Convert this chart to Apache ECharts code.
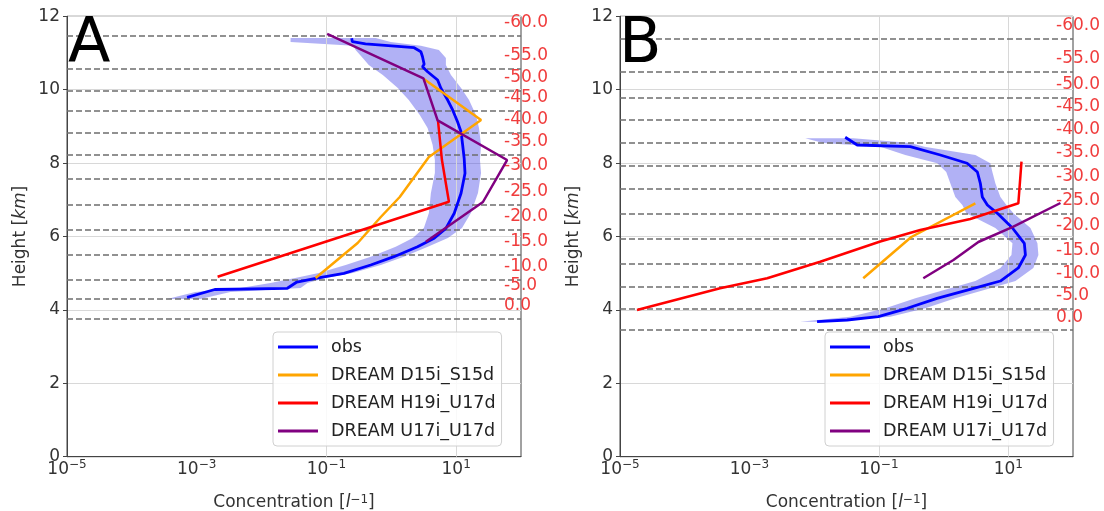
<!DOCTYPE html>
<html><head><meta charset="utf-8">
<script src="https://cdn.jsdelivr.net/npm/echarts@6/dist/echarts.min.js"></script>
<style>html,body{margin:0;padding:0;background:#fff}#c{width:1104px;height:511px}</style>
</head><body><div id="c"></div>
<script>
const FONT = 'DejaVu Sans';
const seriesNames = ['obs', 'DREAM D15i_S15d', 'DREAM H19i_U17d', 'DREAM U17i_U17d'];
const seriesColors = ['#0000ff', '#ffa500', '#ff0000', '#800080'];
const panelLetters = ['A', 'B'];
const xTickLabelExponents = [-5, -3, -1, 1];
const xGridValues = [0.001, 0.1, 10];
const tempLabels = ['-60.0', '-55.0', '-50.0', '-45.0', '-40.0', '-35.0', '-30.0', '-25.0', '-20.0', '-15.0', '-10.0', '-5.0', '0.0'];

// ---------- Panel A ----------
const aTempHeights = [11.47, 10.58, 9.97, 9.43, 8.84, 8.22, 7.57, 6.86, 6.18, 5.50, 4.83, 4.30, 3.77];
const aObsHeight = [4.343, 4.556, 4.589, 4.760, 4.861, 4.997, 5.223, 5.450, 5.722, 5.951, 6.223, 6.632, 7.177, 7.722, 8.131, 8.493, 8.856, 9.128, 9.447, 9.719, 10.038, 10.264, 10.490, 10.627, 10.692, 10.899, 11.035, 11.144, 11.25, 11.308, 11.40];
const aObsConc = [0.00071, 0.0019, 0.025, 0.035, 0.068, 0.186, 0.482, 1.10, 2.54, 4.59, 6.95, 9.35, 11.9, 13.7, 13.3, 12.6, 11.9, 10.5, 8.83, 7.40, 5.82, 5.18, 3.63, 3.03, 3.21, 3.03, 2.86, 2.25, 0.40, 0.251, 0.245];
const aBandHeight = [4.297, 4.488, 4.597, 4.733, 4.869, 5.005, 5.223, 5.450, 5.722, 5.959, 6.232, 6.640, 7.185, 7.730, 8.084, 8.493, 8.956, 9.311, 9.719, 10.046, 10.401, 10.673, 10.864, 11.082, 11.20, 11.30, 11.41];
const aBandLow = [0.00035, 0.00095, 0.0047, 0.0137, 0.033, 0.076, 0.198, 0.482, 1.17, 2.15, 3.18, 3.80, 4.08, 4.70, 4.70, 4.34, 3.63, 2.75, 1.86, 1.26, 0.74, 0.449, 0.363, 0.282, 0.26, 0.028, 0.028];
const aBandHigh = [0.00114, 0.0033, 0.040, 0.051, 0.097, 0.254, 0.689, 1.56, 3.66, 7.46, 12.3, 16.9, 21.7, 24.2, 23.3, 24.2, 22.5, 20.2, 15.8, 11.9, 8.32, 6.95, 6.95, 5.42, 2.86, 0.98, 0.575];
const aD15Height = [4.869, 5.823, 6.531, 7.076, 8.166, 9.174, 10.292];
const aD15Conc = [0.068, 0.303, 0.689, 1.35, 3.80, 24.2, 3.18];
const aH19Height = [4.905, 6.948, 8.084, 9.174];
const aH19Conc = [0.0021, 7.74, 6.04, 5.24];
const aU17Height = [5.858, 6.940, 8.084, 9.166, 10.311, 11.518];
const aU17Conc = [3.41, 25.9, 61.0, 5.18, 3.13, 0.1026];

// ---------- Panel B ----------
const bTempHeights = [11.38, 10.49, 9.79, 9.19, 8.56, 7.93, 7.29, 6.63, 5.95, 5.27, 4.63, 4.04, 3.45];
const bObsHeight = [3.678, 3.725, 3.815, 4.044, 4.316, 4.589, 4.787, 5.142, 5.496, 5.815, 6.232, 6.632, 6.858, 7.076, 7.450, 7.757, 7.995, 8.221, 8.447, 8.493, 8.703];
const bObsConc = [0.0111, 0.0324, 0.098, 0.275, 0.792, 2.92, 7.55, 14.3, 18.4, 17.7, 11.6, 6.78, 4.75, 3.97, 3.70, 3.33, 2.31, 0.891, 0.306, 0.0463, 0.0302];
const bBandHeight = [3.678, 3.815, 4.044, 4.316, 4.589, 4.787, 5.142, 5.496, 5.815, 6.232, 6.632, 6.858, 7.076, 7.450, 7.757, 7.995, 8.221, 8.447, 8.548, 8.676];
const bBandLow = [0.0061, 0.0361, 0.126, 0.366, 1.27, 3.10, 7.55, 11.2, 11.6, 6.31, 2.25, 1.95, 1.52, 1.27, 1.10, 0.80, 0.256, 0.105, 0.0138, 0.0073];
const bBandHigh = [0.0177, 0.150, 0.522, 1.52, 5.28, 12.9, 24.4, 29.2, 28.2, 22.0, 12.0, 9.35, 7.55, 6.31, 5.68, 5.28, 3.10, 0.504, 0.306, 0.0402];
const bD15Height = [4.861, 5.986, 6.905];
const bD15Conc = [0.0574, 0.317, 3.10];
const bH19Height = [3.997, 4.589, 4.861, 5.313, 5.864, 6.177, 6.477, 6.905, 8.038];
const bH19Conc = [0.0000183, 0.000352, 0.00188, 0.0124, 0.105, 0.436, 2.59, 14.3, 16.0];
const bU17Height = [4.861, 5.360, 5.850, 6.267, 6.913];
const bU17Conc = [0.486, 1.42, 3.45, 12.0, 64.0];

const panels = [
  { obs: [aObsConc, aObsHeight], band: [aBandHeight, aBandLow, aBandHigh], temps: aTempHeights,
    models: [[aD15Conc, aD15Height], [aH19Conc, aH19Height], [aU17Conc, aU17Height]] },
  { obs: [bObsConc, bObsHeight], band: [bBandHeight, bBandLow, bBandHigh], temps: bTempHeights,
    models: [[bD15Conc, bD15Height], [bH19Conc, bH19Height], [bU17Conc, bU17Height]] }
];

const pairs = (xs, ys) => xs.map((x, i) => [x, ys[i]]);
const gridPos = [
  { left: 67, top: 16.3, width: 454, height: 440.4 },
  { left: 620, top: 16.3, width: 453, height: 440.4 }
];

const grid = gridPos.map(g => Object.assign({ show: true, borderColor: '#444', borderWidth: 1,
  backgroundColor: 'transparent', containLabel: false, outerBoundsMode: 'none' }, g));

const xAxis = gridPos.map((g, i) => ({
  type: 'log', logBase: 10, gridIndex: i, min: 1e-5, max: 100,
  name: 'Concentration [{i|l}{s|\u22121}]',
  nameLocation: 'middle', nameGap: 37,
  nameTextStyle: {
    fontFamily: FONT, fontSize: 17, color: '#333',
    rich: { i: { fontFamily: FONT, fontSize: 17, color: '#333', fontStyle: 'italic' },
            s: { fontFamily: FONT, fontSize: 12, color: '#333', verticalAlign: 'top', lineHeight: 12 } }
  },
  axisLine: { show: true, lineStyle: { color: '#444', width: 1 } },
  axisTick: { show: false },
  splitLine: { show: false },
  minorTick: { show: false },
  axisLabel: {
    margin: 2, color: '#333', fontFamily: FONT, fontSize: 17,
    formatter: v => {
      const e = Math.round(Math.log10(v));
      if (xTickLabelExponents.indexOf(e) < 0) return '';
      return '{b|10}{s|' + (e < 0 ? '\u2212' : '') + Math.abs(e) + '}';
    },
    rich: { b: { fontFamily: FONT, fontSize: 17, color: '#333', lineHeight: 22 },
            s: { fontFamily: FONT, fontSize: 12, color: '#333', lineHeight: 12, verticalAlign: 'top' } }
  }
}));

const yAxis = gridPos.map((g, i) => ({
  type: 'value', gridIndex: i, min: 0, max: 12, interval: 2,
  name: 'Height [{i|km}]', nameLocation: 'middle', nameGap: 38, nameRotate: 90,
  nameTextStyle: { fontFamily: FONT, fontSize: 17, color: '#333',
    rich: { i: { fontFamily: FONT, fontSize: 17, color: '#333', fontStyle: 'italic' } } },
  axisLine: { show: true, lineStyle: { color: '#444', width: 1 } },
  axisTick: { show: true, length: 4, lineStyle: { color: '#444' } },
  axisLabel: { margin: 7, color: '#333', fontFamily: FONT, fontSize: 17 },
  splitLine: { show: true, lineStyle: { color: '#d8d8d8', width: 1 } }
}));

const series = [];
panels.forEach((p, pi) => {
  // vertical grid lines at labelled decades
  series.push({
    type: 'line', xAxisIndex: pi, yAxisIndex: pi, data: [], silent: true, z: 1,
    markLine: { silent: true, symbol: ['none', 'none'], animation: false,
      lineStyle: { color: '#d8d8d8', width: 1, type: 'solid' }, label: { show: false },
      emphasis: { disabled: true },
      data: xGridValues.map(v => ({ xAxis: v })) }
  });
  // uncertainty band of obs
  const [bh, blo, bhi] = p.band;
  series.push({
    type: 'custom', xAxisIndex: pi, yAxisIndex: pi, silent: true, z: 2,
    data: bh.map((h, i) => [blo[i], h, bhi[i]]),
    encode: { x: [0, 2], y: 1 },
    renderItem: (params, api) => {
      if (params.dataIndex !== 0) return null;
      const pts = [];
      for (let i = 0; i < bh.length; i++) pts.push(api.coord([blo[i], bh[i]]));
      for (let i = bh.length - 1; i >= 0; i--) pts.push(api.coord([bhi[i], bh[i]]));
      return { type: 'polygon', shape: { points: pts },
        style: { fill: 'rgba(70,70,230,0.42)', stroke: 'none' } };
    }
  });
  // temperature level dashed lines with red labels
  series.push({
    type: 'line', xAxisIndex: pi, yAxisIndex: pi, data: [], silent: true, z: 3,
    markLine: { silent: true, symbol: ['none', 'none'], animation: false,
      emphasis: { disabled: true },
      lineStyle: { color: '#6e6e6e', width: 1.6, type: [6, 3] },
      label: { show: true, position: 'end', formatter: '{b}', distance: 0, offset: [-17, -13],
        color: '#f03c3c', fontFamily: FONT, fontSize: 17 },
      data: p.temps.map((h, i) => ({ yAxis: h, name: tempLabels[i] })) }
  });
  // obs line
  series.push({
    name: seriesNames[0], type: 'line', xAxisIndex: pi, yAxisIndex: pi, z: 5,
    data: pairs(p.obs[0], p.obs[1]), showSymbol: false, symbol: 'none',
    lineStyle: { color: seriesColors[0], width: 2.8 }, itemStyle: { color: seriesColors[0] }
  });
  p.models.forEach((m, mi) => {
    series.push({
      name: seriesNames[mi + 1], type: 'line', xAxisIndex: pi, yAxisIndex: pi, z: 5,
      data: pairs(m[0], m[1]), showSymbol: false, symbol: 'none',
      lineStyle: { color: seriesColors[mi + 1], width: 2.5 }, itemStyle: { color: seriesColors[mi + 1] }
    });
  });
});

const legendLeft = [273, 825];
const legend = legendLeft.map(l => ({
  data: seriesNames, orient: 'vertical', left: l, top: 332, selectedMode: false,
  icon: 'rect', itemWidth: 40, itemHeight: 3, itemGap: 8,
  padding: [5, 6, 5, 5], borderColor: '#d0d0d0', borderWidth: 1, borderRadius: 4,
  backgroundColor: 'rgba(255,255,255,0.85)', z: 10,
  textStyle: { fontFamily: FONT, fontSize: 17.5, color: '#222', lineHeight: 20, padding: [0, 0, 0, 8] }
}));

const title = panelLetters.map((t, i) => ({
  text: t, left: [68, 619][i], top: 15, padding: 0,
  textStyle: { fontFamily: FONT, fontSize: 62, fontWeight: 'normal', color: '#000' }
}));

const chart = echarts.init(document.getElementById('c'), null, { renderer: 'canvas' });
chart.setOption({
  animation: false, backgroundColor: '#fff',
  title, legend, grid, xAxis, yAxis, series
});
</script></body></html>
